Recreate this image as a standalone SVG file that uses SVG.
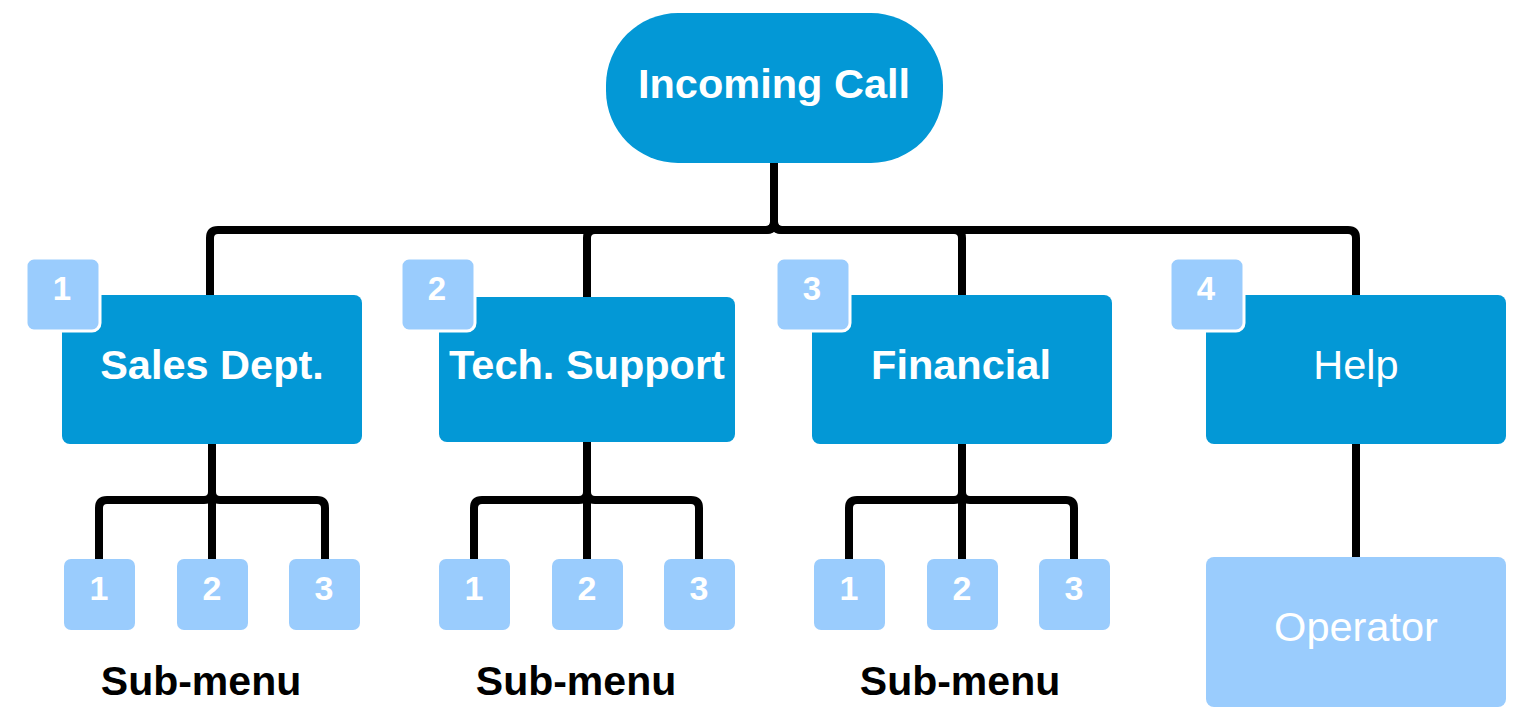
<svg xmlns="http://www.w3.org/2000/svg" width="1526" height="728" viewBox="0 0 1526 728">
<style>
.main{fill:#0398D6}
.light{fill:#9ACCFD}
.badge{fill:#9ACCFD;stroke:#FFFFFF;stroke-width:3}
.conn{fill:none;stroke:#000000;stroke-width:8;stroke-linejoin:round}
text{font-family:"Liberation Sans",Arial,sans-serif;text-anchor:middle}
.tb{fill:#FFFFFF;font-weight:bold;font-size:41.5px}
.tn{fill:#FFFFFF;font-size:41.5px}
.num{fill:#FFFFFF;font-weight:bold;font-size:33px}
.lbl{fill:#000000;font-weight:bold;font-size:41px}
</style>
<rect width="1526" height="728" fill="#FFFFFF"/>
<g id="connectors">
<path class="conn" d="M774,163 V222 Q774,230 766,230 H218 Q210,230 210,238 V295"/>
<path class="conn" d="M774,163 V222 Q774,230 766,230 H595 Q587,230 587,238 V297"/>
<path class="conn" d="M774,163 V222 Q774,230 782,230 H954 Q962,230 962,238 V295"/>
<path class="conn" d="M774,163 V222 Q774,230 782,230 H1348 Q1356,230 1356,238 V295"/>
<path class="conn" d="M212,444 V492 Q212,500 204,500 H107 Q99,500 99,508 V559"/>
<path class="conn" d="M212,444 V559"/>
<path class="conn" d="M212,444 V492 Q212,500 220,500 H317 Q325,500 325,508 V559"/>
<path class="conn" d="M587,442 V492 Q587,500 579,500 H482 Q474,500 474,508 V559"/>
<path class="conn" d="M587,442 V559"/>
<path class="conn" d="M587,442 V492 Q587,500 595,500 H691 Q699,500 699,508 V559"/>
<path class="conn" d="M962,444 V492 Q962,500 954,500 H857 Q849,500 849,508 V559"/>
<path class="conn" d="M962,444 V559"/>
<path class="conn" d="M962,444 V492 Q962,500 970,500 H1066 Q1074,500 1074,508 V559"/>
<path class="conn" d="M1356,444 V557"/>
</g>
<g id="incoming-call">
<rect class="main" x="606" y="13" width="337" height="150" rx="72" ry="72"/>
<text class="tb" x="774" y="98">Incoming Call</text>
</g>
<g id="sales">
<rect class="main" x="62" y="295" width="300" height="149" rx="8"/>
<text class="tb" x="212" y="379">Sales Dept.</text>
</g>
<g id="badge-1">
<rect class="badge" x="26" y="258" width="74" height="73" rx="8"/>
<text class="num" x="62" y="300">1</text>
</g>
<g id="tech">
<rect class="main" x="439" y="297" width="296" height="145" rx="8"/>
<text class="tb" x="587" y="379">Tech. Support</text>
</g>
<g id="badge-2">
<rect class="badge" x="401" y="258" width="74" height="73" rx="8"/>
<text class="num" x="437" y="300">2</text>
</g>
<g id="financial">
<rect class="main" x="812" y="295" width="300" height="149" rx="8"/>
<text class="tb" x="961" y="379">Financial</text>
</g>
<g id="badge-3">
<rect class="badge" x="776" y="258" width="74" height="73" rx="8"/>
<text class="num" x="812" y="300">3</text>
</g>
<g id="help">
<rect class="main" x="1206" y="295" width="300" height="149" rx="8"/>
<text class="tn" x="1356" y="379">Help</text>
</g>
<g id="badge-4">
<rect class="badge" x="1170" y="258" width="74" height="73" rx="8"/>
<text class="num" x="1206" y="300">4</text>
</g>
<g id="operator">
<rect class="light" x="1206" y="557" width="300" height="150" rx="8"/>
<text class="tn" x="1356" y="641">Operator</text>
</g>
<g id="sales-sub-1"><rect class="light" x="64" y="559" width="71" height="71" rx="7"/><text class="num" x="99" y="600" style="font-size:34px">1</text></g>
<g id="sales-sub-2"><rect class="light" x="177" y="559" width="71" height="71" rx="7"/><text class="num" x="212" y="600" style="font-size:34px">2</text></g>
<g id="sales-sub-3"><rect class="light" x="289" y="559" width="71" height="71" rx="7"/><text class="num" x="324" y="600" style="font-size:34px">3</text></g>
<g id="tech-sub-1"><rect class="light" x="439" y="559" width="71" height="71" rx="7"/><text class="num" x="474" y="600" style="font-size:34px">1</text></g>
<g id="tech-sub-2"><rect class="light" x="552" y="559" width="71" height="71" rx="7"/><text class="num" x="587" y="600" style="font-size:34px">2</text></g>
<g id="tech-sub-3"><rect class="light" x="664" y="559" width="71" height="71" rx="7"/><text class="num" x="699" y="600" style="font-size:34px">3</text></g>
<g id="fin-sub-1"><rect class="light" x="814" y="559" width="71" height="71" rx="7"/><text class="num" x="849" y="600" style="font-size:34px">1</text></g>
<g id="fin-sub-2"><rect class="light" x="927" y="559" width="71" height="71" rx="7"/><text class="num" x="962" y="600" style="font-size:34px">2</text></g>
<g id="fin-sub-3"><rect class="light" x="1039" y="559" width="71" height="71" rx="7"/><text class="num" x="1074" y="600" style="font-size:34px">3</text></g>
<g id="submenu-labels">
<text class="lbl" x="201" y="695">Sub-menu</text>
<text class="lbl" x="576" y="695">Sub-menu</text>
<text class="lbl" x="960" y="695">Sub-menu</text>
</g>
</svg>
